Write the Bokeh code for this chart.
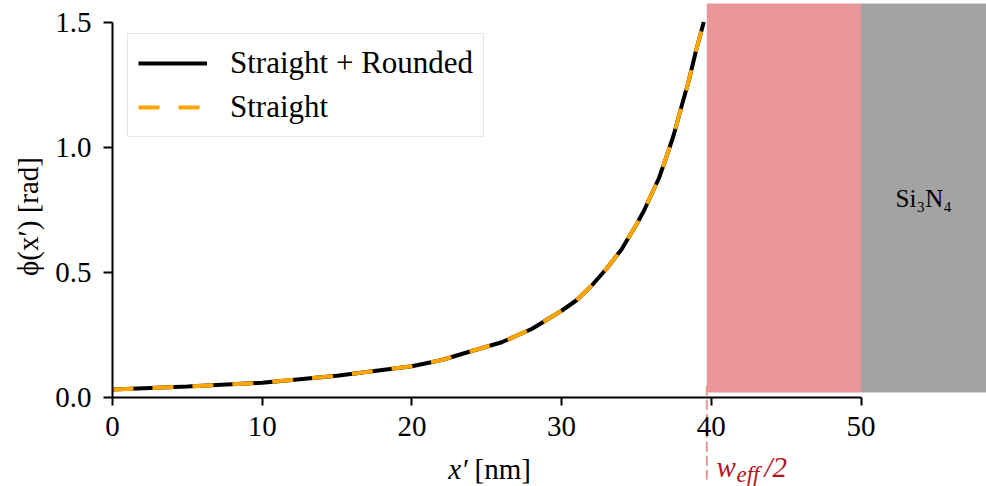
import numpy as np
from bokeh.plotting import figure
from bokeh.models import (Range1d, FixedTicker, Label, Legend, LegendItem,
                          CustomJSTickFormatter)
from bokeh.embed import file_html
from bokeh.resources import INLINE

# ---- data ----
x_nm = [0, 5, 10, 15, 20, 22, 24, 26, 28, 30, 31, 32, 33, 34, 35, 35.5, 36, 36.5,
        37, 37.5, 38, 38.5, 39, 39.5]
phi_rounded = [0.030, 0.042, 0.057, 0.085, 0.123, 0.148, 0.184, 0.219, 0.272, 0.345,
               0.387, 0.445, 0.513, 0.59, 0.69, 0.745, 0.81, 0.875, 0.96, 1.05, 1.16,
               1.266, 1.39, 1.50]
phi_straight = [0.030, 0.042, 0.057, 0.085, 0.123, 0.148, 0.184, 0.219, 0.272, 0.345,
                0.387, 0.445, 0.513, 0.59, 0.69, 0.745, 0.81, 0.875, 0.96, 1.05, 1.16,
                1.266, 1.39, 1.50]
w_eff_half = 39.7
si3n4_edge = 50.0
x_ticks = [0, 10, 20, 30, 40, 50]
y_ticks = [0.0, 0.5, 1.0, 1.5]

FONT = "Liberation Serif"
FS = "29px"

# frame covers whole canvas; axes are placed at x=0 / y=0
PX_X, PX_Y = 14.97, 250.0
x_lo, x_hi = -112 / PX_X, (986 - 112) / PX_X
y_lo, y_hi = -(486 - 396.5) / PX_Y, 396.5 / PX_Y
shade_top = (396.5 - 3) / PX_Y

p = figure(width=986, height=486, output_backend="svg", toolbar_location=None,
           x_range=Range1d(x_lo, x_hi), y_range=Range1d(y_lo, y_hi),
           min_border_left=0, min_border_right=0, min_border_top=0, min_border_bottom=0)
p.outline_line_color = None
p.xgrid.visible = False
p.ygrid.visible = False
p.background_fill_color = "white"

# shaded regions
p.quad(left=[w_eff_half], right=[si3n4_edge], bottom=[0.018], top=[shade_top],
       fill_color="#E89698", line_color=None)
p.quad(left=[si3n4_edge], right=[x_hi], bottom=[0.018], top=[shade_top],
       fill_color="#A3A3A3", line_color=None)

# dashed marker line for w_eff/2
p.segment(x0=[w_eff_half], y0=[0.045], x1=[w_eff_half], y1=[-0.33],
          line_color="#E89698", line_width=2, line_dash="10 4")

r1 = p.line(x_nm, phi_rounded, line_color="black", line_width=4)
r2 = p.line(x_nm, phi_straight, line_color="#FFA500", line_width=4, line_dash="21 19")

# axes
xa = p.xaxis[0]
xa.fixed_location = 0
xa.bounds = (0, 50)
xa.ticker = FixedTicker(ticks=x_ticks)
xa.minor_tick_line_color = None
xa.major_tick_in = 0
xa.major_tick_out = 8
xa.axis_line_width = 2
xa.major_tick_line_width = 2
xa.major_label_text_font = FONT
xa.major_label_text_font_size = FS
xa.major_label_text_color = "black"
xa.major_label_standoff = 12

ya = p.yaxis[0]
ya.fixed_location = 0
ya.bounds = (0, 1.5)
ya.ticker = FixedTicker(ticks=y_ticks)
ya.formatter = CustomJSTickFormatter(code="return tick.toFixed(1);")
ya.minor_tick_line_color = None
ya.major_tick_in = 0
ya.major_tick_out = 9
ya.axis_line_width = 2
ya.major_tick_line_width = 2
ya.major_label_text_font = FONT
ya.major_label_text_font_size = FS
ya.major_label_text_color = "black"
ya.major_label_standoff = 12

# axis labels
p.add_layout(Label(x=(27 - 112) / PX_X, y=(396.5 - 216) / PX_Y, text="ϕ(x′) [rad]",
                   angle=np.pi / 2, text_font=FONT, text_font_size=FS,
                   text_align="center", text_baseline="middle", text_color="black"))
p.add_layout(Label(x=(467 - 112) / PX_X, y=(396.5 - 468) / PX_Y, text="x′", text_font=FONT,
                   text_font_size=FS, text_font_style="italic", text_align="right",
                   text_baseline="middle", text_color="black"))
p.add_layout(Label(x=(474 - 112) / PX_X, y=(396.5 - 468) / PX_Y, text="[nm]", text_font=FONT,
                   text_font_size=FS, text_align="left",
                   text_baseline="middle", text_color="black"))

# w_eff/2 label
RED = "#B3141C"
p.add_layout(Label(x=(716 - 112) / PX_X, y=(396.5 - 466) / PX_Y, text="w", text_font=FONT,
                   text_font_size=FS, text_font_style="italic", text_align="left",
                   text_baseline="middle", text_color=RED))
p.add_layout(Label(x=(736 - 112) / PX_X, y=(396.5 - 474) / PX_Y, text="eff", text_font=FONT,
                   text_font_size="23px", text_font_style="italic", text_align="left",
                   text_baseline="middle", text_color=RED))
p.add_layout(Label(x=(764 - 112) / PX_X, y=(396.5 - 466) / PX_Y, text="/2", text_font=FONT,
                   text_font_size=FS, text_font_style="italic", text_align="left",
                   text_baseline="middle", text_color=RED))

# Si3N4 label
p.add_layout(Label(x=(si3n4_edge + x_hi) / 2, y=(396.5 - 198) / PX_Y, text="Si₃N₄",
                   text_font=FONT, text_font_size="25px", text_align="center",
                   text_baseline="middle", text_color="black"))

legend = Legend(items=[LegendItem(label="Straight + Rounded", renderers=[r1]),
                       LegendItem(label="Straight", renderers=[r2])],
                location=(127, 486 - 137))
legend.label_text_font = FONT
legend.label_text_font_size = "31px"
legend.label_text_color = "black"
legend.glyph_width = 69
legend.glyph_height = 38
legend.label_height = 38
legend.label_standoff = 23
legend.spacing = 6
legend.padding = 10
legend.margin = 0
legend.border_line_color = "#CCCCCC"
legend.border_line_width = 1.5
legend.background_fill_color = "white"
legend.background_fill_alpha = 0.8
p.add_layout(legend)

open("out.html", "w").write(file_html(p, INLINE))
